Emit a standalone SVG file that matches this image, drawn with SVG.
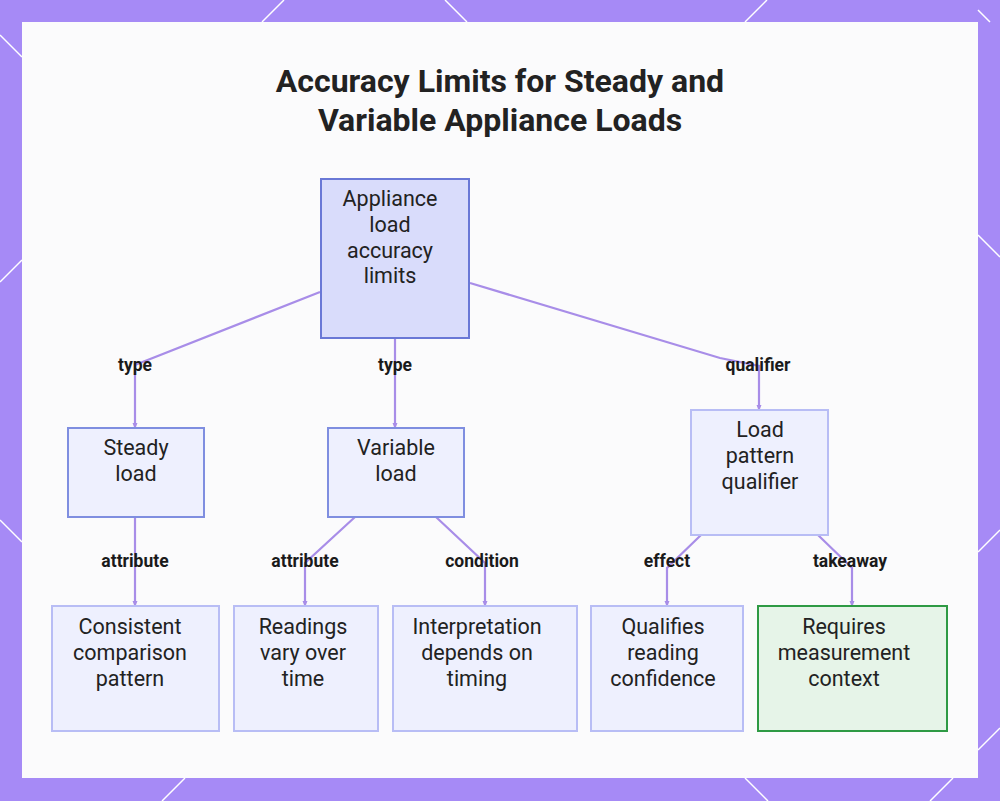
<svg xmlns="http://www.w3.org/2000/svg" width="1000" height="801" viewBox="0 0 1000 801">
<style>
.n{fill:#eef0fe;stroke:#b8bdf5;stroke-width:2}
.r{fill:#d9dcfb;stroke:#6a78d6;stroke-width:2}
.m{fill:#eef0fe;stroke:#7f8ee0;stroke-width:2}
.g{fill:#e6f4e8;stroke:#2e9a44;stroke-width:2}
.t{font-family:Roboto,"Liberation Sans",sans-serif;font-size:21.5px;fill:#222;text-anchor:middle}
.l{font-family:Roboto,"Liberation Sans",sans-serif;font-size:17.5px;font-weight:bold;fill:#1a1a1a;text-anchor:middle}
.e{fill:none;stroke:#a88de8;stroke-width:2.2}
.d{stroke:#fff;stroke-width:1.5}
</style>
<defs><marker id="a" markerUnits="userSpaceOnUse" markerWidth="6" markerHeight="6" refX="5" refY="3" orient="auto"><path d="M0,0.5L6,3L0,5.5z" fill="#a88de8"/></marker></defs>
<rect width="1000" height="801" fill="#a68af6"/>
<g class="d"><line x1="0" y1="35" x2="22" y2="57"/><line x1="262" y1="22" x2="284" y2="0"/><line x1="445" y1="0" x2="467" y2="22"/><line x1="745" y1="22" x2="767" y2="0"/><line x1="978" y1="10" x2="990" y2="22"/><line x1="0" y1="282" x2="22" y2="260"/><line x1="978" y1="235" x2="1000" y2="257"/><line x1="0" y1="520" x2="22" y2="542"/><line x1="978" y1="552" x2="1000" y2="530"/><line x1="978" y1="750" x2="1000" y2="728"/><line x1="162" y1="801" x2="185" y2="778"/><line x1="745" y1="778" x2="768" y2="801"/><line x1="930" y1="801" x2="953" y2="778"/></g>
<rect x="22" y="22" width="956" height="756" fill="#fbfbfc"/>
<text x="500" y="92" class="t" style="font-size:32px;font-weight:bold">Accuracy Limits for Steady and</text>
<text x="500" y="131" class="t" style="font-size:32px;font-weight:bold">Variable Appliance Loads</text>
<g id="connectors">
<path class="e" marker-end="url(#a)" d="M320,292L135,365V428"/>
<path class="e" marker-end="url(#a)" d="M395,338V428"/>
<path class="e" marker-end="url(#a)" d="M470,283L720,358L759,366V410"/>
<path class="e" marker-end="url(#a)" d="M135,517V606"/>
<path class="e" marker-end="url(#a)" d="M355,517L305,563V606"/>
<path class="e" marker-end="url(#a)" d="M436,517L485,563V606"/>
<path class="e" marker-end="url(#a)" d="M701,535L667,568V606"/>
<path class="e" marker-end="url(#a)" d="M818,535L852,568V606"/>
<text x="135" y="371" class="l">type</text>
<text x="395" y="371" class="l">type</text>
<text x="758" y="371" class="l">qualifier</text>
<text x="135" y="567" class="l">attribute</text>
<text x="305" y="567" class="l">attribute</text>
<text x="482" y="567" class="l">condition</text>
<text x="667" y="567" class="l">effect</text>
<text x="850" y="567" class="l">takeaway</text>
</g>
<g id="root"><rect class="r" x="321" y="179" width="148" height="159"/><text class="t" x="390" y="206">Appliance</text><text class="t" x="390" y="232">load</text><text class="t" x="390" y="258">accuracy</text><text class="t" x="390" y="283">limits</text></g>
<g id="steady"><rect class="m" x="68" y="428" width="136" height="89"/><text class="t" x="136" y="455">Steady</text><text class="t" x="136" y="481">load</text></g>
<g id="variable"><rect class="m" x="328" y="428" width="136" height="89"/><text class="t" x="396" y="455">Variable</text><text class="t" x="396" y="481">load</text></g>
<g id="qualifier"><rect class="n" x="691" y="410" width="137" height="125"/><text class="t" x="760" y="437">Load</text><text class="t" x="760" y="463">pattern</text><text class="t" x="760" y="489">qualifier</text></g>
<g id="consistent"><rect class="n" x="52" y="606" width="167" height="125"/><text class="t" x="130" y="634">Consistent</text><text class="t" x="130" y="660">comparison</text><text class="t" x="130" y="686">pattern</text></g>
<g id="readings"><rect class="n" x="234" y="606" width="144" height="125"/><text class="t" x="303" y="634">Readings</text><text class="t" x="303" y="660">vary over</text><text class="t" x="303" y="686">time</text></g>
<g id="interp"><rect class="n" x="393" y="606" width="184" height="125"/><text class="t" x="477" y="634">Interpretation</text><text class="t" x="477" y="660">depends on</text><text class="t" x="477" y="686">timing</text></g>
<g id="qualifies"><rect class="n" x="591" y="606" width="152" height="125"/><text class="t" x="663" y="634">Qualifies</text><text class="t" x="663" y="660">reading</text><text class="t" x="663" y="686">confidence</text></g>
<g id="requires"><rect class="g" x="758" y="606" width="189" height="125"/><text class="t" x="844" y="634">Requires</text><text class="t" x="844" y="660">measurement</text><text class="t" x="844" y="686">context</text></g>
</svg>
